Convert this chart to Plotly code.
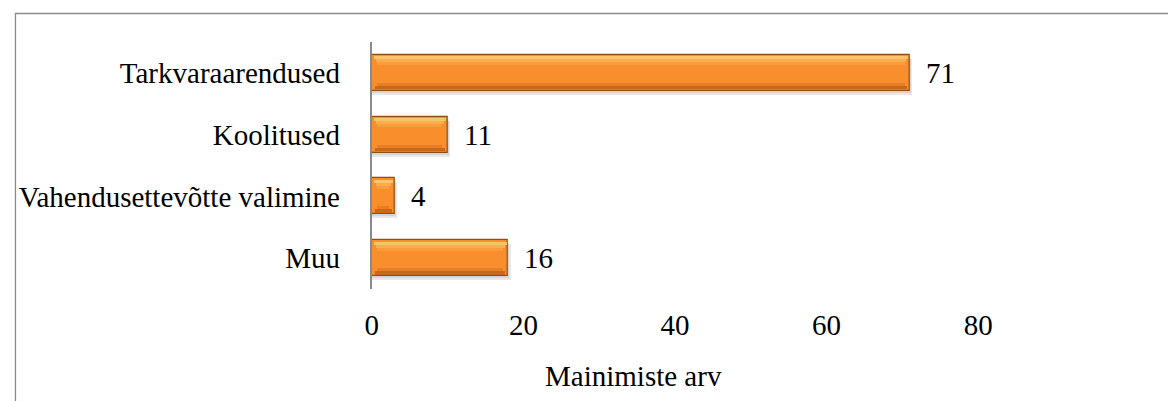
import plotly.graph_objects as go

categories = ["Tarkvaraarendused", "Koolitused", "Vahendusettevõtte valimine", "Muu"]
bar_values = [71, 10, 3, 18]          # bar lengths as drawn
label_values = [71, 11, 4, 16]        # printed data labels
x_ticks = [0, 20, 40, 60, 80]
x_title = "Mainimiste arv"

W, H = 1168, 401
FONT = "Liberation Serif, Times New Roman, serif"
FS = 29

x0_px, x_per_unit = 367, 7.625
x_max = 100
x1_px = x0_px + x_max * x_per_unit
y_top_px, y_bot_px = 42, 289
U = 61.75  # pixels per category band

def strip(off_px, h_px, color, inset):
    return go.Bar(
        y=categories, x=[max(v - 2 * inset, 0.15) for v in bar_values], base=inset,
        orientation="h", offset=-0.29 + off_px / U, width=h_px / U,
        marker=dict(color=color, line=dict(width=0)),
        hoverinfo="skip", showlegend=False)

fig = go.Figure()

# soft shadow below
fig.add_trace(go.Bar(
    y=categories, x=[v + 0.3 for v in bar_values], orientation="h",
    offset=-0.29 + 4 / U, width=0.58, marker=dict(color="rgba(0,0,0,0.09)", line=dict(width=0)),
    hoverinfo="skip", showlegend=False))
fig.add_trace(go.Bar(
    y=categories, x=[v + 0.1 for v in bar_values], orientation="h",
    offset=-0.29 + 2 / U, width=0.58, marker=dict(color="rgba(0,0,0,0.08)", line=dict(width=0)),
    hoverinfo="skip", showlegend=False))
# main bar
fig.add_trace(go.Bar(
    y=categories, x=bar_values, orientation="h",
    offset=-0.29, width=0.58,
    marker=dict(color="#F88F2C", line=dict(color="#8E4E14", width=1.2)),
    showlegend=False))
# bevel gradient strips
fig.add_trace(strip(1.5, 3, "#FCC468", 0.25))
fig.add_trace(strip(4.5, 3, "#FBAE4F", 0.5))
fig.add_trace(strip(7.5, 3, "#FA9E3D", 0.7))
fig.add_trace(strip(28, 3, "#E57E25", 0.7))
fig.add_trace(strip(31, 3.5, "#C8681B", 0.4))

for c, v, t in zip(categories, bar_values, label_values):
    fig.add_annotation(x=v, y=c, text=str(t), showarrow=False, xanchor="left",
                       xshift=14, font=dict(family=FONT, size=FS, color="#000000"))

fig.add_annotation(x=630 / W, y=1 - 376 / H, xref="paper", yref="paper",
                   text=x_title, showarrow=False, xanchor="center", yanchor="middle",
                   font=dict(family=FONT, size=FS, color="#000000"))

# outer frame (top and left edges visible)
fig.add_shape(type="rect", xref="paper", yref="paper",
              x0=8.5 / W, x1=1.05, y0=-0.05, y1=1 - 13.5 / H,
              line=dict(color="#8A8A8A", width=1.3))

fig.update_layout(
    width=W, height=H, margin=dict(l=0, r=0, t=0, b=0),
    paper_bgcolor="white", plot_bgcolor="white",
    barmode="overlay", bargap=0,
    font=dict(family=FONT, size=FS, color="#000000"),
    xaxis=dict(domain=[x0_px / W, x1_px / W], range=[0, x_max],
               tickvals=x_ticks, ticktext=[str(t) for t in x_ticks],
               showgrid=False, zeroline=False, showline=False,
               ticks="", ticklabelstandoff=16,
               tickfont=dict(family=FONT, size=FS, color="#000000")),
    yaxis=dict(domain=[1 - y_bot_px / H, 1 - y_top_px / H],
               categoryorder="array", categoryarray=categories,
               autorange="reversed", showgrid=False, zeroline=False,
               showline=True, linecolor="#8A8A8A", linewidth=2,
               ticks="", ticklabelstandoff=24,
               tickfont=dict(family=FONT, size=FS, color="#000000")),
)

fig.write_html("out.html")
